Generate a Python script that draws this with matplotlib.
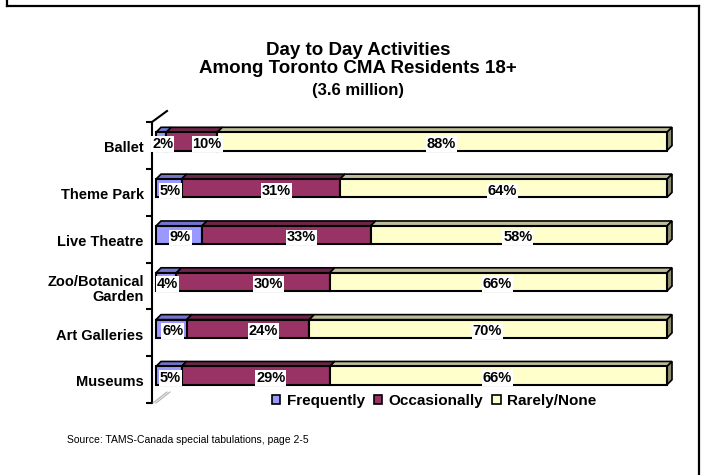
import matplotlib
matplotlib.use("Agg")
from matplotlib import pyplot as plt
from matplotlib.patches import Rectangle, Polygon, Patch
from matplotlib.lines import Line2D

plt.rcParams['font.family'] = ['Liberation Sans', 'DejaVu Sans']

categories = ["Ballet", "Theme Park", "Live Theatre", "Zoo/Botanical\nGarden",
              "Art Galleries", "Museums"]
frequently = [2, 5, 9, 4, 6, 5]
occasionally = [10, 31, 33, 30, 24, 29]
rarely = [88, 64, 58, 66, 70, 66]
series_names = ["Frequently", "Occasionally", "Rarely/None"]

front_colors = ["#9999FF", "#993366", "#FFFFCC"]
top_colors = ["#7474CC", "#6E2549", "#BDBD99"]
side_color = "#8C8C70"

W, H = 705, 475
fig = plt.figure(figsize=(W / 100, H / 100), dpi=100)

# outer frame (open at the bottom like the original slide crop)
for xs, ys in [([7, 7], [0, 6]), ([7, 699], [6, 6]), ([699, 699], [6, 475])]:
    fig.add_artist(Line2D([x / W for x in xs], [1 - y / H for y in ys],
                          color="black", lw=1.6, transform=fig.transFigure))

ax = fig.add_axes([156 / W, 1 - 403 / H, 511 / W, 281 / H])
ax.set_xlim(0, 100)
ax.set_ylim(-0.5, 5.5)
for s in ["top", "right", "bottom"]:
    ax.spines[s].set_visible(False)
ax.spines["left"].set_position(("outward", 2.9))
ax.spines["left"].set_linewidth(1.5)
ax.set_xticks([])
ax.set_yticks([i - 0.5 for i in range(7)])
ax.set_yticklabels([])
ax.tick_params(axis="y", which="major", length=4.5, width=1.5, direction="out")
ypos = list(range(len(categories)))[::-1]
ax.set_yticks([y - 0.03 for y in ypos], minor=True)
ax.set_yticklabels(categories, minor=True, fontsize=10.5, fontweight="bold",
                   linespacing=1.15)
ax.tick_params(axis="y", which="minor", length=0, pad=6)

dxd = 5 / 5.11     # depth offset in % units
dyd = 5 / 46.8     # depth offset in category units
h = 0.39
shift = 0.085
label_dx = [0.3, 3.0, -0.2]

values = [frequently, occasionally, rarely]
for i, y in enumerate(ypos):
    yc = y + shift
    bottom, top = yc - h / 2, yc + h / 2
    left = 0
    for j in range(3):
        w = values[j][i]
        ax.add_patch(Rectangle((left, bottom), w, h, facecolor=front_colors[j],
                               edgecolor="black", lw=1.5, clip_on=False, zorder=3))
        ax.add_patch(Polygon([(left, top), (left + w, top), (left + w + dxd, top + dyd),
                              (left + dxd, top + dyd)], closed=True,
                             facecolor=top_colors[j], edgecolor="black", lw=1.2,
                             clip_on=False, zorder=2))
        ax.text(left + w / 2 + label_dx[j], yc - 0.05, f"{w}%", ha="center",
                va="center", fontsize=10.5, fontweight="bold", zorder=5,
                bbox=dict(facecolor="white", edgecolor="none", pad=0.6))
        left += w
    ax.add_patch(Polygon([(left, bottom), (left, top), (left + dxd, top + dyd),
                          (left + dxd, bottom + dyd)], closed=True,
                         facecolor=side_color, edgecolor="black", lw=1.2,
                         clip_on=False, zorder=2))

# 3D wall edge at the top of the axis and floor hatch at the bottom
fig.add_artist(Line2D([152 / W, 167 / W], [1 - 122 / H, 1 - 111 / H],
                      color="black", lw=1.5, transform=fig.transFigure))
for off in (0, 3):
    fig.add_artist(Line2D([(153 + off) / W, (167 + off) / W],
                          [1 - 403 / H, 1 - 392 / H],
                          color="#B0B0B0", lw=0.8, transform=fig.transFigure))

cx = 358 / W
fig.text(cx, 1 - 55 / H, "Day to Day Activities", ha="center", va="baseline",
         fontsize=13.5, fontweight="bold")
fig.text(cx, 1 - 73 / H, "Among Toronto CMA Residents 18+", ha="center",
         va="baseline", fontsize=13.5, fontweight="bold")
fig.text(cx, 1 - 95 / H, "(3.6 million)", ha="center", va="baseline",
         fontsize=12, fontweight="bold")

handles = [Patch(facecolor=c, edgecolor="black", lw=1.2) for c in front_colors]
fig.legend(handles, series_names, loc="center", bbox_to_anchor=(434 / W, 1 - 401 / H),
           ncol=3, frameon=False, handlelength=0.55, handleheight=0.55,
           handletextpad=0.4, columnspacing=0.6, borderpad=0,
           prop=dict(size=11, weight="bold"))

fig.text(67 / W, 1 - 440 / H, "Source: TAMS-Canada special tabulations, page 2-5",
         ha="left", va="center", fontsize=7.5)

fig.savefig("out.png", dpi=100)
